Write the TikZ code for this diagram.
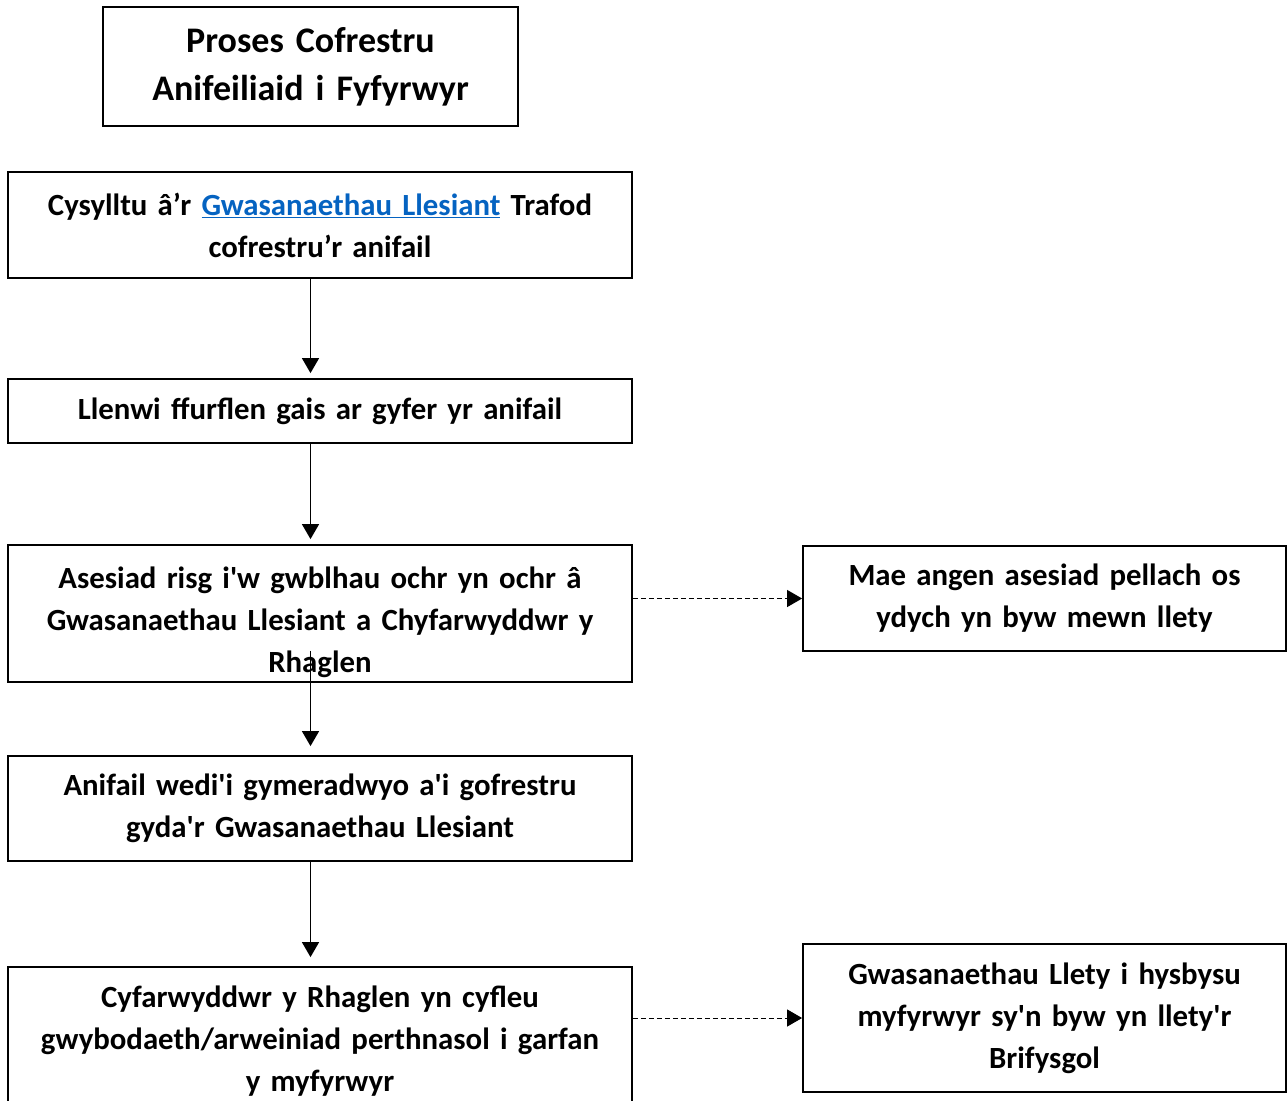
\documentclass[tikz,border=0pt]{standalone}
\usepackage{fontspec}
\setmainfont{Carlito}
\usetikzlibrary{shapes.geometric, arrows.meta, positioning}
\definecolor{linkblue}{RGB}{5,99,193}
\newcommand{\sq}{\textquotesingle}
\tikzstyle{titlebox} = [rectangle, minimum width=415pt, minimum height=119pt, text width=405pt, align=center, draw=black, line width=1.8pt, font=\fontsize{36}{48}\selectfont\bfseries]
\tikzstyle{stepbox} = [rectangle, minimum width=624pt, text width=610pt, align=center, draw=black, line width=1.8pt, font=\fontsize{30.8}{42}\selectfont\bfseries]
\tikzstyle{notebox} = [stepbox, minimum width=483pt, text width=470pt]
\tikzstyle{arrow} = [line width=1.4pt, -{Triangle[length=15pt,width=17pt]}]
\tikzstyle{dasharrow} = [arrow, line width=1pt, dash pattern=on 5pt off 3pt]

\begin{document}
\begin{tikzpicture}[node distance=195pt, tips=proper]
      \useasboundingbox (0,0) rectangle (1287pt,-1100pt);
      \node (title)    [titlebox] at (310.5pt,-66.5pt)                                  {Proses Cofrestru\\Anifeiliaid i Fyfyrwyr};
      \node (contact)  [stepbox,  minimum height=106pt, below of=title, xshift=9.5pt, yshift=36.5pt] {Cysylltu â’r \textcolor{linkblue}{\underline{Gwasanaethau Llesiant}} Trafod\\cofrestru’r anifail};
      \node (form)     [stepbox,  minimum height=64pt,  below of=contact, yshift=9pt]     {Llenwi ffurflen gais ar gyfer yr anifail};
      \node (risk)     [stepbox,  minimum height=137pt, inner ysep=0pt, below of=form, yshift=-7.5pt] {\rule{0pt}{40pt}Asesiad risg i\sq w gwblhau ochr yn ochr â\\Gwasanaethau Llesiant a Chyfarwyddwr y\\Rhaglen};
      \node (approve)  [stepbox,  minimum height=105pt, below of=risk]                   {Anifail wedi\sq i gymeradwyo a\sq i gofrestru\\gyda\sq r Gwasanaethau Llesiant};
      \node (inform)   [stepbox,  minimum height=148pt, below of=approve, yshift=-37.5pt] {Cyfarwyddwr y Rhaglen yn cyfleu\\gwybodaeth/arweiniad perthnasol i garfan\\y myfyrwyr};

      \node (further)  [notebox,  minimum height=105pt, right of=risk, xshift=529.5pt, yshift=15pt]  {Mae angen asesiad pellach os\\ydych yn byw mewn llety};
      \node (housing)  [notebox,  minimum height=148pt, right of=inform, xshift=529.5pt, yshift=23pt] {Gwasanaethau Llety i hysbysu\\myfyrwyr sy\sq n byw yn llety\sq r\\Brifysgol};

      \draw [arrow] (contact.south -| title) -- ([yshift=5pt]form.north -| title);
      \draw [arrow] (form.south -| title)    -- ([yshift=5pt]risk.north -| title);
      \draw [arrow] ([yshift=32pt]risk.south -| title) -- ([yshift=9pt]approve.north -| title);
      \draw [arrow] (approve.south -| title) -- ([yshift=9pt]inform.north -| title);

      \draw [dasharrow] (risk.east |- further)    -- (further.west);
      \draw [dasharrow] (inform.east |- housing)  -- (housing.west);
    \end{tikzpicture}
\end{document}
